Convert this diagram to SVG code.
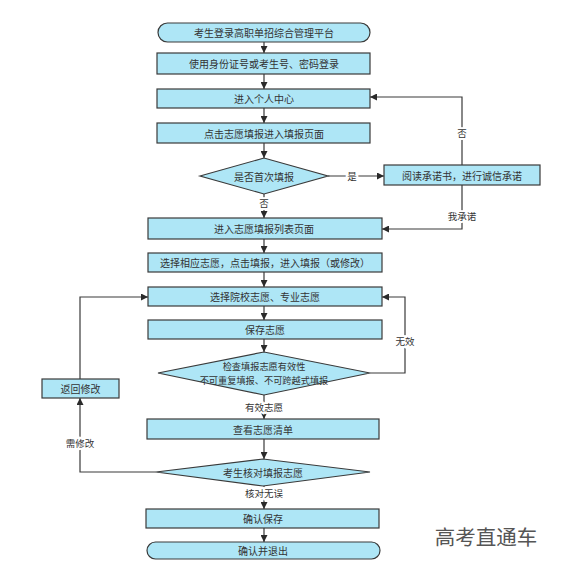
<svg xmlns="http://www.w3.org/2000/svg" width="570" height="578" viewBox="0 0 570 578">
<style>
.n{fill:#aee6f6;stroke:#3a3a3a;stroke-width:1.2}
.t{font-family:"Noto Sans CJK SC","Liberation Sans",sans-serif;font-size:10px;fill:#333;text-anchor:middle;dominant-baseline:central}
.s{font-size:9.2px}
.l{font-family:"Noto Sans CJK SC","Liberation Sans",sans-serif;font-size:9.5px;fill:#333;text-anchor:middle;dominant-baseline:central;stroke:#fff;stroke-width:4;paint-order:stroke}
.c{fill:none;stroke:#3a3a3a;stroke-width:1.2}
</style>
<defs>
<marker id="a" viewBox="0 0 10 10" refX="10" refY="5" markerWidth="7" markerHeight="7" markerUnits="userSpaceOnUse" orient="auto">
<path d="M0,0 L10,5 L0,10 z" fill="#2a2a2a"/>
</marker>
</defs>
<rect width="570" height="578" fill="#fff"/>
<g id="connectors">
<path class="c" marker-end="url(#a)" d="M264,42 V53"/>
<path class="c" marker-end="url(#a)" d="M264,74 V89"/>
<path class="c" marker-end="url(#a)" d="M264,108 V123"/>
<path class="c" marker-end="url(#a)" d="M264,143 V158"/>
<path class="c" marker-end="url(#a)" d="M328,176 H384"/>
<path class="c" marker-end="url(#a)" d="M462,165 V97 H370"/>
<path class="c" marker-end="url(#a)" d="M462,185 V229 H382"/>
<path class="c" marker-end="url(#a)" d="M264,194 V218"/>
<path class="c" marker-end="url(#a)" d="M264,239 V253"/>
<path class="c" marker-end="url(#a)" d="M264,272 V287"/>
<path class="c" marker-end="url(#a)" d="M264,306 V320"/>
<path class="c" marker-end="url(#a)" d="M264,339 V352"/>
<path class="c" marker-end="url(#a)" d="M370,373 H405 V297 H382"/>
<path class="c" marker-end="url(#a)" d="M80,379 V297 H148"/>
<path class="c" marker-end="url(#a)" d="M264,395 V419"/>
<path class="c" marker-end="url(#a)" d="M264,439 V459"/>
<path class="c" marker-end="url(#a)" d="M156,472 H80 V398"/>
<path class="c" marker-end="url(#a)" d="M264,486 V509"/>
<path class="c" marker-end="url(#a)" d="M264,528 V542"/>
<text class="l" x="352" y="176">是</text>
<text class="l" x="462" y="133">否</text>
<text class="l" x="462" y="216">我承诺</text>
<text class="l" x="264" y="203">否</text>
<text class="l" x="405" y="341">无效</text>
<text class="l" x="264" y="407">有效志愿</text>
<text class="l" x="80" y="443">需修改</text>
<text class="l" x="264" y="493">核对无误</text>
</g>
<g id="n1"><rect class="n" x="158" y="23" width="212" height="19" rx="9.5"/><text class="t" x="264" y="32.5">考生登录高职单招综合管理平台</text></g>
<g id="n2"><rect class="n" x="157" y="53" width="213" height="21"/><text class="t" x="264" y="63.5">使用身份证号或考生号、密码登录</text></g>
<g id="n3"><rect class="n" x="157" y="89" width="213" height="19"/><text class="t" x="264" y="98.5">进入个人中心</text></g>
<g id="n4"><rect class="n" x="157" y="123" width="213" height="20"/><text class="t" x="264" y="133">点击志愿填报进入填报页面</text></g>
<g id="d1"><polygon class="n" points="200,176 264,158 328,176 264,194"/><text class="t" x="264" y="176">是否首次填报</text></g>
<g id="n5"><rect class="n" x="384" y="165" width="156" height="20"/><text class="t" x="462" y="175">阅读承诺书，进行诚信承诺</text></g>
<g id="n6"><rect class="n" x="148" y="218" width="234" height="21"/><text class="t" x="264" y="228.5">进入志愿填报列表页面</text></g>
<g id="n7"><rect class="n" x="148" y="253" width="234" height="19"/><text class="t" x="265" y="262.5">选择相应志愿，点击填报，进入填报（或修改）</text></g>
<g id="n8"><rect class="n" x="148" y="287" width="234" height="19"/><text class="t" x="265" y="296.5">选择院校志愿、专业志愿</text></g>
<g id="n9"><rect class="n" x="148" y="320" width="234" height="19"/><text class="t" x="265" y="329.5">保存志愿</text></g>
<g id="d2"><polygon class="n" points="158,373 264,352 370,373 264,395"/><text class="t s" x="264" y="366">检查填报志愿有效性</text><text class="t s" x="264" y="380">不可重复填报、不可跨越式填报</text></g>
<g id="n10"><rect class="n" x="42" y="379" width="77" height="19"/><text class="t" x="80.5" y="388.5">返回修改</text></g>
<g id="n11"><rect class="n" x="147" y="419" width="232" height="20"/><text class="t" x="263" y="429">查看志愿清单</text></g>
<g id="d3"><polygon class="n" points="156,472 263,459 370,472 263,486"/><text class="t" x="263" y="472">考生核对填报志愿</text></g>
<g id="n12"><rect class="n" x="146" y="509" width="233" height="19"/><text class="t" x="263" y="518.5">确认保存</text></g>
<g id="n13"><rect class="n" x="147" y="542" width="233" height="17" rx="8.5"/><text class="t" x="263" y="550.5">确认并退出</text></g>
<text x="486" y="536" font-family="Noto Sans CJK SC, sans-serif" font-size="20.5" fill="#555" text-anchor="middle" dominant-baseline="central">高考直通车</text>
</svg>
